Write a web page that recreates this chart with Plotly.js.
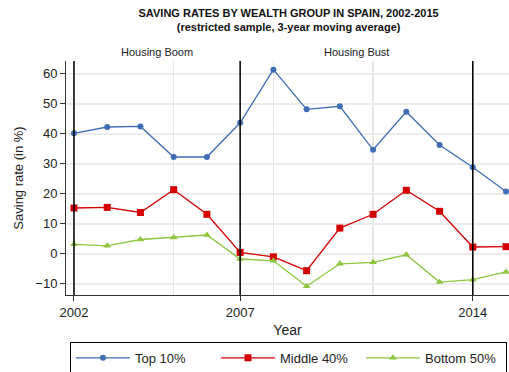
<!DOCTYPE html>
<html><head><meta charset="utf-8">
<script src="https://cdn.plot.ly/plotly-3.0.1.min.js"></script>
<style>html,body{margin:0;padding:0;background:#fff}#chart{width:509px;height:372px}</style>
</head><body><div id="chart"></div>
<script>
const years = [2002,2003,2004,2005,2006,2007,2008,2009,2010,2011,2012,2013,2014,2015];
const top10 = [40.2,42.3,42.5,32.3,32.3,43.7,61.4,48.2,49.2,34.7,47.4,36.3,28.9,20.8];
const middle40 = [15.3,15.5,13.8,21.4,13.2,0.5,-1.0,-5.6,8.6,13.2,21.2,14.2,2.3,2.4];
const bottom50 = [3.2,2.7,4.8,5.5,6.3,-1.7,-2.3,-10.8,-3.3,-2.8,-0.3,-9.4,-8.6,-6.0];
const seriesNames = ["Top 10%","Middle 40%","Bottom 50%"];
const periodLines = [2002,2007,2014];
const periodLabels = ["Housing Boom","Housing Bust"];
const periodCenters = [2004.5,2010.5];
const xTickVals = [2002,2007,2014];
const yTickVals = [-10,0,10,20,30,40,50,60];

const colors = ["#3f6db3","#d40000","#8dc63f"];
const symbols = ["circle","square","triangle-up"];
const sizes = [6,7,7];
const data = [top10, middle40, bottom50].map((ys,i)=>({
  x: years, y: ys, name: seriesNames[i], type:"scatter", mode:"lines+markers",
  line:{color:colors[i], width:1.3},
  marker:{color:colors[i], symbol:symbols[i], size:sizes[i]}
}));

const shapes = periodLines.map(x=>({type:"line", xref:"x", yref:"paper", x0:x, x1:x, y0:0, y1:1, line:{color:"#000", width:1.5}}));
const annotations = periodLabels.map((t,i)=>({text:t, x:periodCenters[i], xref:"x", y:1.005, yref:"paper", yanchor:"bottom", showarrow:false, font:{size:11, color:"#222"}}));

const layout = {
  width:509, height:372,
  margin:{l:66, r:0, t:61, b:77},
  paper_bgcolor:"#fff", plot_bgcolor:"#fff",
  font:{family:"Liberation Sans, Arial, sans-serif", color:"#222"},
  title:{text:"<b>SAVING RATES BY WEALTH GROUP IN SPAIN, 2002-2015</b><br><b>(restricted sample, 3-year moving average)</b>",
    font:{size:11, color:"#111"}, x:0.567, xanchor:"center", y:0.955, yanchor:"top"},
  xaxis:{range:[2001.76,2015.09], tickvals:xTickVals, ticktext:xTickVals.map(String),
    showgrid:false, zeroline:false, showline:true, linecolor:"#333", linewidth:1,
    ticks:"outside", ticklen:5, tickcolor:"#333", tickfont:{size:13},
    minor:{tick0:2002, dtick:3, showgrid:true, gridcolor:"#e6e6e6", gridwidth:1.5, ticklen:0},
    title:{text:"Year", font:{size:14}, standoff:6}},
  yaxis:{range:[-13.7,64.3], tickvals:yTickVals, showgrid:true, gridcolor:"#ececec", gridwidth:2,
    zeroline:false, showline:true, linecolor:"#333", linewidth:1,
    ticks:"outside", ticklen:5, tickcolor:"#333", tickfont:{size:13},
    title:{text:"Saving rate (in %)", font:{size:13}, standoff:8}},
  shapes: shapes, annotations: annotations,
  showlegend:true,
  legend:{orientation:"h", xref:"container", yref:"container", x:0.1375, xanchor:"left", y:0.081, yanchor:"top",
    bordercolor:"#000", borderwidth:1, font:{size:13}, itemwidth:54, entrywidth:76, tracegroupgap:0}
};
Plotly.newPlot("chart", data, layout, {displayModeBar:false, staticPlot:true});
</script></body></html>
